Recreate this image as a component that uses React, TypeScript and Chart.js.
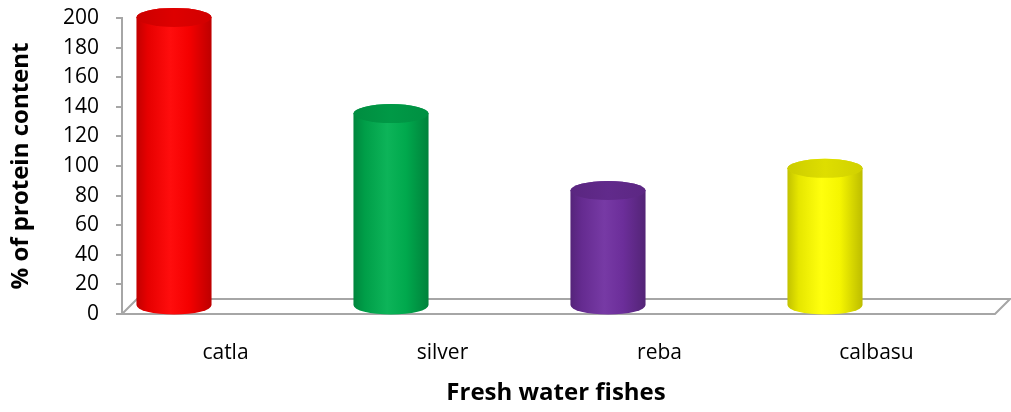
import React, { useEffect, useRef } from "react";
import { Chart, registerables } from "chart.js";

Chart.register(...registerables);

// ---- data ----
const categories = ["catla", "silver", "reba", "calbasu"];
const proteinContent = [195, 130, 78, 93];
const yMin = 0;
const yMax = 200;
const yStep = 20;

const yTitle = "% of protein content";
const xTitle = "Fresh water fishes";

// ---- style ----
const palette = ["#ff0000", "#00b050", "#7030a0", "#ffff00"];
const AXIS_GRAY = "#a6a6a6";
const FONT = "'Open Sans', 'DejaVu Sans', sans-serif";
const DEPTH = 15; // 3D floor depth in px
const SHIFT_X = -56.5; // projection shift of the cylinders
const SHIFT_Y = -8;
const ELLIPSE_RY = 9.5;

function toRgb(hex: string) {
  const h = hex.replace("#", "");
  return [0, 2, 4].map((i) => parseInt(h.slice(i, i + 2), 16));
}
function shade(hex: string, f: number, lighten = 0) {
  const [r, g, b] = toRgb(hex);
  const c = (v: number) => {
    let x = v * f;
    x = x + (255 - x) * lighten;
    return Math.max(0, Math.min(255, Math.round(x)));
  };
  return `rgb(${c(r)},${c(g)},${c(b)})`;
}

const floorPlugin = {
  id: "floor3d",
  beforeDatasetsDraw(chart: any) {
    const { ctx, chartArea } = chart;
    const { left, right, bottom } = chartArea;
    const fr = right + 5;
    ctx.save();
    ctx.strokeStyle = AXIS_GRAY;
    ctx.lineWidth = 2;
    ctx.beginPath();
    ctx.moveTo(left, bottom);
    ctx.lineTo(fr, bottom);
    ctx.lineTo(fr + DEPTH, bottom - DEPTH);
    ctx.lineTo(left + DEPTH, bottom - DEPTH);
    ctx.lineTo(left, bottom);
    ctx.stroke();
    ctx.restore();
  },
};

const cylinderPlugin = {
  id: "cylinders",
  afterDatasetsDraw(chart: any) {
    const { ctx } = chart;
    const meta = chart.getDatasetMeta(0);
    meta.data.forEach((el: any, i: number) => {
      const { x, y, base, width } = el.getProps(["x", "y", "base", "width"], true);
      const color = palette[i % palette.length];
      const cx = x + SHIFT_X;
      const rx = width / 2;
      const ry = ELLIPSE_RY;
      const topY = y + SHIFT_Y;
      const botY = base + SHIFT_Y;
      ctx.save();
      const g = ctx.createLinearGradient(cx - rx, 0, cx + rx, 0);
      g.addColorStop(0, shade(color, 0.76));
      g.addColorStop(0.15, shade(color, 0.9));
      g.addColorStop(0.45, shade(color, 1, 0.05));
      g.addColorStop(0.7, shade(color, 0.96));
      g.addColorStop(1, shade(color, 0.74));
      ctx.beginPath();
      ctx.moveTo(cx - rx, topY);
      ctx.lineTo(cx - rx, botY);
      ctx.ellipse(cx, botY, rx, ry, 0, Math.PI, 0, true);
      ctx.lineTo(cx + rx, topY);
      ctx.ellipse(cx, topY, rx, ry, 0, 0, Math.PI, true);
      ctx.closePath();
      ctx.fillStyle = g;
      ctx.fill();
      const gt = ctx.createLinearGradient(cx - rx, 0, cx + rx, 0);
      gt.addColorStop(0, shade(color, 0.8));
      gt.addColorStop(0.5, shade(color, 0.87));
      gt.addColorStop(1, shade(color, 0.82));
      ctx.beginPath();
      ctx.ellipse(cx, topY, rx, ry, 0, 0, Math.PI * 2);
      ctx.fillStyle = gt;
      ctx.fill();
      ctx.restore();
    });
  },
};

export default function App() {
  const canvasRef = useRef<HTMLCanvasElement | null>(null);

  useEffect(() => {
    if (!canvasRef.current) return;
    const chart = new Chart(canvasRef.current, {
      type: "bar",
      data: {
        labels: categories,
        datasets: [
          {
            label: yTitle,
            data: proteinContent,
            backgroundColor: "rgba(0,0,0,0)",
            borderWidth: 0,
            categoryPercentage: 1,
            barPercentage: 0.346,
          },
        ],
      },
      options: {
        animation: false,
        responsive: true,
        maintainAspectRatio: false,
        layout: { padding: { top: 18, right: 21, bottom: 0, left: 0 } },
        plugins: {
          legend: { display: false },
          tooltip: { enabled: false },
        },
        scales: {
          x: {
            grid: { display: false },
            border: { display: false },
            ticks: {
              color: "#000",
              font: { family: FONT, size: 21 },
              padding: 18,
              labelOffset: -5,
              maxRotation: 0,
            },
            title: {
              display: true,
              text: xTitle,
              color: "#000",
              font: { family: FONT, size: 24, weight: "bold" },
              padding: { top: 0, bottom: 4 },
            },
            afterFit(scale: any) {
              scale.height = 98;
            },
          },
          y: {
            min: yMin,
            max: yMax,
            ticks: {
              stepSize: yStep,
              color: "#000",
              font: { family: FONT, size: 21 },
              padding: 17,
            },
            grid: {
              drawOnChartArea: false,
              drawTicks: true,
              tickLength: 6,
              color: AXIS_GRAY,
              lineWidth: 2,
            },
            border: { display: true, color: AXIS_GRAY, width: 2 },
            title: {
              display: true,
              text: yTitle,
              color: "#000",
              font: { family: FONT, size: 24, weight: "bold" },
              padding: { top: 7, bottom: 0 },
            },
            afterFit(scale: any) {
              scale.width = 122;
              scale.paddingTop = 12;
              scale.paddingBottom = 12;
            },
          },
        },
      },
      plugins: [floorPlugin, cylinderPlugin],
    });
    return () => chart.destroy();
  }, []);

  return (
    <div style={{ position: "fixed", left: 0, top: 0, width: 1011, height: 412, background: "#fff" }}>
      <canvas ref={canvasRef} />
    </div>
  );
}
